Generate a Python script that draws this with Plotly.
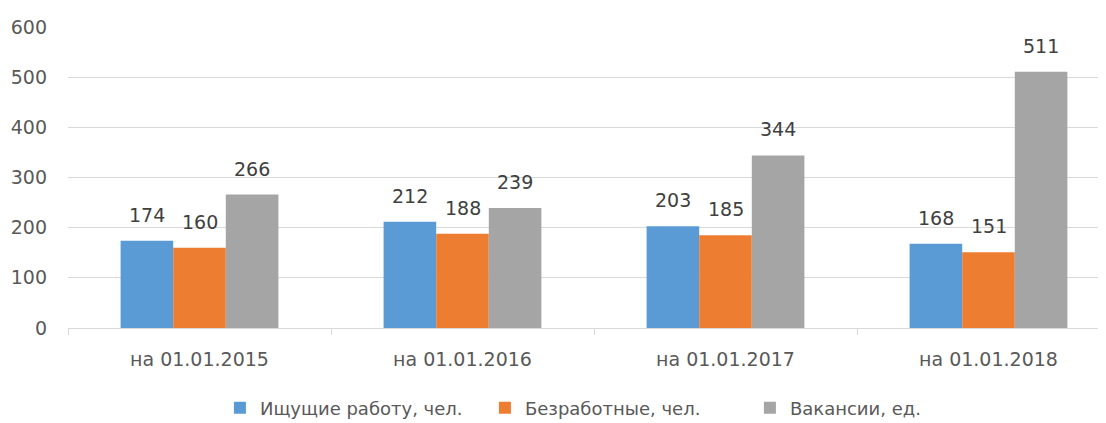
import plotly.graph_objects as go

categories = ["на 01.01.2015", "на 01.01.2016", "на 01.01.2017", "на 01.01.2018"]
series_names = ["Ищущие работу, чел.", "Безработные, чел.", "Вакансии, ед."]
seekers = [174, 212, 203, 168]
unemployed = [160, 188, 185, 151]
vacancies = [266, 239, 344, 511]
colors = ["#5B9BD5", "#ED7D31", "#A5A5A5"]
y_ticks = [0, 100, 200, 300, 400, 500, 600]

FONT = "DejaVu Sans"
series = [seekers, unemployed, vacancies]

# the page body has an 8px margin, so the figure is sized to the visible area
W = 1098
H = 415
left = 60
cat_w = 263.0
plot_w = W - left
n_cats = plot_w / cat_w
bar_px = cat_w * 0.2

fig = go.Figure()
for name, vals, col in zip(series_names, series, colors):
    fig.add_trace(go.Bar(
        x=categories, y=vals, name=name, marker=dict(color=col, line=dict(width=0)),
    ))

annotations = []
for i, vals in enumerate(series):
    for cat, v in zip(categories, vals):
        annotations.append(dict(
            x=cat, y=v, xref="x", yref="y", text=str(v), showarrow=False,
            xanchor="center", yanchor="bottom", xshift=(i - 1) * bar_px, yshift=13,
            font=dict(family=FONT, size=19, color="#404040"),
        ))

fig.update_layout(
    width=W, height=H,
    margin=dict(l=left, r=0, t=19, b=95, autoexpand=False),
    paper_bgcolor="white", plot_bgcolor="white",
    barmode="group", bargap=0.4, bargroupgap=0,
    font=dict(family=FONT, color="#595959", size=19),
    showlegend=True,
    annotations=annotations,
    legend=dict(orientation="h", xref="container", yref="container",
                x=0.193, xanchor="left", y=0.036, yanchor="middle",
                font=dict(family=FONT, size=18, color="#595959"),
                itemwidth=30, tracegroupgap=0,
                entrywidth=220, entrywidthmode="pixels"),
    xaxis=dict(range=[-0.5, -0.5 + n_cats], showgrid=False,
               showline=True, linecolor="#D9D9D9", linewidth=1,
               ticks="outside", tickson="boundaries", ticklen=6, tickcolor="#D9D9D9",
               ticklabelstandoff=14,
               tickfont=dict(family=FONT, size=19, color="#595959")),
    yaxis=dict(range=[0, 600], tickvals=y_ticks, showgrid=True, gridcolor="#D9D9D9",
               gridwidth=1, zeroline=False, showline=False, ticks="",
               ticklabelstandoff=20,
               tickfont=dict(family=FONT, size=19, color="#595959")),
)
fig.write_html("out.html")
